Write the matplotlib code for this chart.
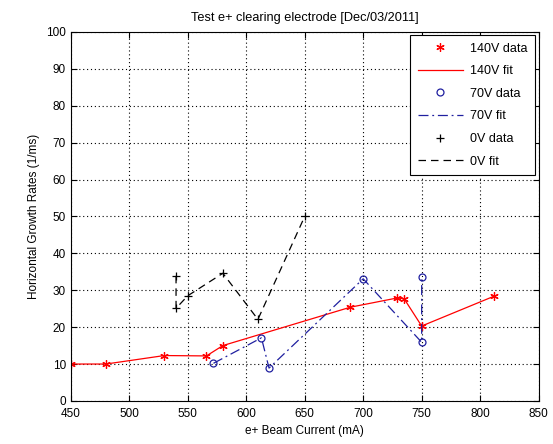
import matplotlib
matplotlib.use("Agg")
import matplotlib.pyplot as plt

plt.rcParams['font.family'] = ['Liberation Sans', 'DejaVu Sans']

x140 = [450, 480, 530, 566, 580, 689, 729, 735, 750, 812]
y140 = [10.0, 10.0, 12.3, 12.2, 15.0, 25.4, 27.9, 27.7, 20.3, 28.4]

x70 = [572, 613, 619.5, 700, 750, 750]
y70 = [10.2, 17.1, 8.9, 33.1, 15.9, 33.7]

x0 = [540, 540, 550, 580, 610, 650]
y0 = [33.9, 25.1, 28.5, 34.6, 22.1, 50.0]

xticks = [450, 500, 550, 600, 650, 700, 750, 800, 850]
yticks = [0, 10, 20, 30, 40, 50, 60, 70, 80, 90, 100]

fig = plt.figure(figsize=(5.53, 4.44), dpi=100)
ax = fig.add_axes([0.128, 0.097, 0.846, 0.831])

ax.plot(x140, y140, linestyle='none', marker=(6, 2, 0), color='red', markersize=6,
        markeredgewidth=0.9, label='140V data')
ax.plot(x140, y140, linestyle='-', color='red', linewidth=0.9, label='140V fit')
ax.plot(x70, y70, linestyle='none', marker='o', mfc='none', mec='#2020a0', markersize=5,
        markeredgewidth=0.9, label='70V data')
ax.plot(x70, y70, linestyle=(0, (8, 3, 1.5, 3)), color='#2020a0', linewidth=0.9, label='70V fit')
ax.plot(x0, y0, linestyle='none', marker='+', color='black', markersize=6,
        markeredgewidth=0.9, label='0V data')
ax.plot(x0, y0, linestyle=(0, (6, 4)), color='black', linewidth=0.9, label='0V fit')

ax.set_xlim(450, 850)
ax.set_ylim(0, 100)
ax.set_xticks(xticks)
ax.set_yticks(yticks)
ax.tick_params(direction='in', top=True, right=True, labelsize=8.5, length=4)
ax.tick_params(axis='x', pad=5)
ax.grid(True, linestyle=(0, (1, 2.5)), color='black', linewidth=0.8)
for s in ax.spines.values():
    s.set_linewidth(0.8)

ax.set_title('Test e+ clearing electrode [Dec/03/2011]', fontsize=9.2, pad=8)
ax.set_xlabel('e+ Beam Current (mA)', fontsize=8.5)
ax.set_ylabel('Horizontal Growth Rates (1/ms)', fontsize=8.5)

leg = ax.legend(loc='upper right', fontsize=9, fancybox=False, edgecolor='black',
                framealpha=1, borderaxespad=0.25, handlelength=3.6, labelspacing=0.85,
                borderpad=0.6, handletextpad=0.6)
leg.get_frame().set_linewidth(0.8)

fig.savefig('out.png', dpi=100)
